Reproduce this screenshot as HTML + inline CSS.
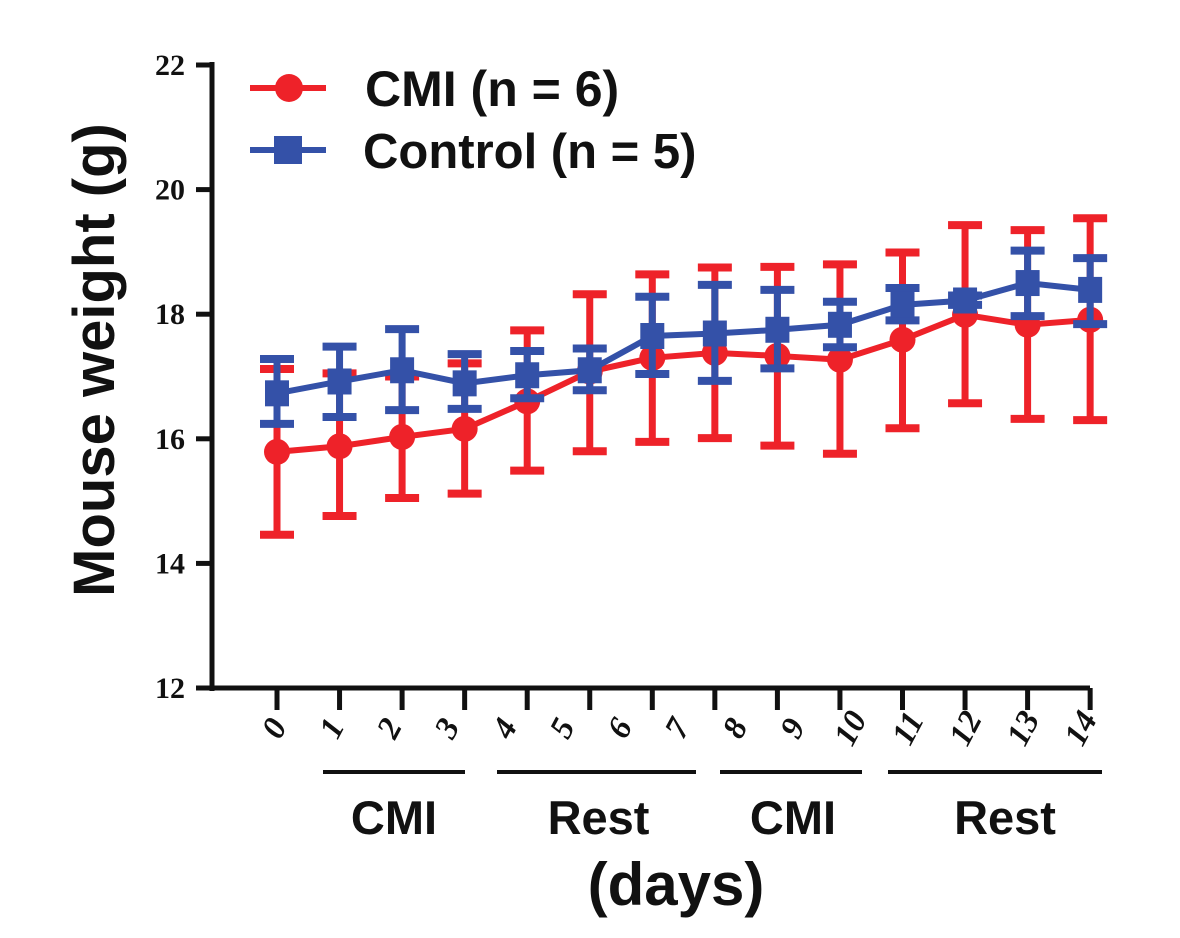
<!DOCTYPE html>
<html><head><meta charset="utf-8"><style>
html,body{margin:0;padding:0;background:#fff;}
svg{display:block;}
</style></head><body>
<svg id="chart" width="1180" height="938" viewBox="0 0 1180 938" xmlns="http://www.w3.org/2000/svg">
<g id="axes"></g>
<g id="series"></g>
<g id="legend">
  <line x1="250" y1="88" x2="326" y2="88" stroke="#ee2229" stroke-width="6"/>
  <circle cx="289" cy="88" r="14" fill="#ee2229"/>
  <text x="365" y="106" font-family="Liberation Sans, sans-serif" font-weight="bold" font-size="50" fill="#111">CMI (n = 6)</text>
  <line x1="250" y1="150" x2="326" y2="150" stroke="#3451a8" stroke-width="6"/>
  <rect x="274" y="136" width="28" height="28" fill="#3451a8"/>
  <text x="363" y="168" font-family="Liberation Sans, sans-serif" font-weight="bold" font-size="49" fill="#111">Control (n = 5)</text>
</g>
<text transform="translate(114,360) rotate(-90)" text-anchor="middle" font-family="Liberation Sans, sans-serif" font-weight="bold" font-size="58" fill="#111">Mouse weight (g)</text>
<g id="phases"></g>
<text x="676" y="905" text-anchor="middle" font-family="Liberation Sans, sans-serif" font-weight="bold" font-size="60" fill="#111">(days)</text>
</svg>
<script>
const days = [0,1,2,3,4,5,6,7,8,9,10,11,12,13];
const dayLabels = ["0","1","2","3","4","5","6","7","8","9","10","11","12","13","14"];
const yTicks = [12,14,16,18,20,22];
const cmiMean = [15.79,15.88,16.03,16.16,16.6,17.08,17.30,17.38,17.33,17.27,17.59,17.99,17.83,17.91];
const cmiHigh = [17.12,17.05,17.0,17.21,17.74,18.32,18.64,18.75,18.76,18.80,18.99,19.43,19.35,19.54];
const cmiLow = [14.46,14.76,15.05,15.12,15.49,15.80,15.95,16.01,15.89,15.76,16.17,16.57,16.32,16.30];
const ctlMean = [16.73,16.92,17.10,16.89,17.02,17.10,17.65,17.69,17.75,17.83,18.15,18.22,18.50,18.39];
const ctlHigh = [17.28,17.48,17.76,17.36,17.41,17.45,18.28,18.47,18.39,18.20,18.42,18.30,19.02,18.90];
const ctlLow = [16.24,16.35,16.46,16.48,16.65,16.78,17.04,16.93,17.13,17.47,17.90,18.15,17.97,17.84];
const phaseNames = ["CMI","Rest","CMI","Rest"];

const NS="http://www.w3.org/2000/svg";
const X0=277, DX=62.55, Y0=688, PY=62.3;
function xs(d){return X0+d*DX;}
function ys(v){return Y0-(v-12)*PY;}
function mk(tag,attrs,parent){const e=document.createElementNS(NS,tag);for(const k in attrs)e.setAttribute(k,attrs[k]);parent.appendChild(e);return e;}

const axes=document.getElementById('axes');
let a=mk('line',{x1:212,y1:62,x2:212,y2:691,stroke:'#111','stroke-width':5},axes);


a=mk('line',{x1:209,y1:688,x2:1090,y2:688,stroke:'#111','stroke-width':5},axes);


yTicks.forEach(v=>{
  const t=mk('line',{x1:196,y1:ys(v),x2:212,y2:ys(v),stroke:'#111','stroke-width':5},axes);
  
  
  const l=mk('text',{x:185,y:ys(v)+10,'text-anchor':'end','font-family':'Liberation Serif, serif','font-weight':'bold','font-size':30,fill:'#111'},axes);
  l.textContent=v;
  
  
});
days.forEach(d=>{
  const t=mk('line',{x1:xs(d),y1:688,x2:xs(d),y2:710,stroke:'#111','stroke-width':5},axes);
  
  
});
dayLabels.forEach((s,i)=>{
  const cx=274+i*57.6, cy=728;
  const l=mk('text',{x:cx,y:cy+11,'text-anchor':'middle','font-family':'Liberation Serif, serif','font-weight':'bold','font-style':'italic','font-size':33,fill:'#111',transform:`rotate(-62 ${cx} ${cy})`},axes);
  l.textContent=s;
  
  
});

const phases=document.getElementById('phases');
const segs=[[323,465],[497,696],[720,862],[888,1102]];
phaseNames.forEach((n,i)=>{
  const [x1,x2]=segs[i];
  const ln=mk('line',{x1:x1,y1:772,x2:x2,y2:772,stroke:'#111','stroke-width':4},phases);
  
  
  const t=mk('text',{x:(x1+x2)/2+(i===0?0:(i===3?10:2)),y:834,'text-anchor':'middle','font-family':'Liberation Sans, sans-serif','font-weight':'bold','font-size':47,fill:'#111'},phases);
  t.textContent=n;
  
  
});

const series=document.getElementById('series');
function drawErr(hi,lo,color,name,g){
  days.forEach((d,i)=>{
    const x=xs(d);
    const v=mk('line',{x1:x,y1:ys(hi[i]),x2:x,y2:ys(lo[i]),stroke:color,'stroke-width':7},g);
    
    
    [hi[i],lo[i]].forEach(val=>{
      const c=mk('line',{x1:x-17,y1:ys(val),x2:x+17,y2:ys(val),stroke:color,'stroke-width':8},g);
      
      
    });
  });
}
function drawLine(m,color,name,g){
  const p=mk('polyline',{points:days.map((d,i)=>xs(d)+','+ys(m[i])).join(' '),fill:'none',stroke:color,'stroke-width':6},g);
  
  
}
const gR=mk('g',{},series);


const gB=mk('g',{},series);


drawErr(cmiHigh,cmiLow,'#ee2229','cmi',gR);
drawLine(cmiMean,'#ee2229','cmi',gR);
days.forEach((d,i)=>{
  const c=mk('circle',{cx:xs(d),cy:ys(cmiMean[i]),r:13,fill:'#ee2229'},gR);
  
  
});
drawErr(ctlHigh,ctlLow,'#3451a8','control',gB);
drawLine(ctlMean,'#3451a8','control',gB);
days.forEach((d,i)=>{
  const r=mk('rect',{x:xs(d)-12,y:ys(ctlMean[i])-13,width:24,height:26,fill:'#3451a8'},gB);
  
  
});
</script>
</body></html>
